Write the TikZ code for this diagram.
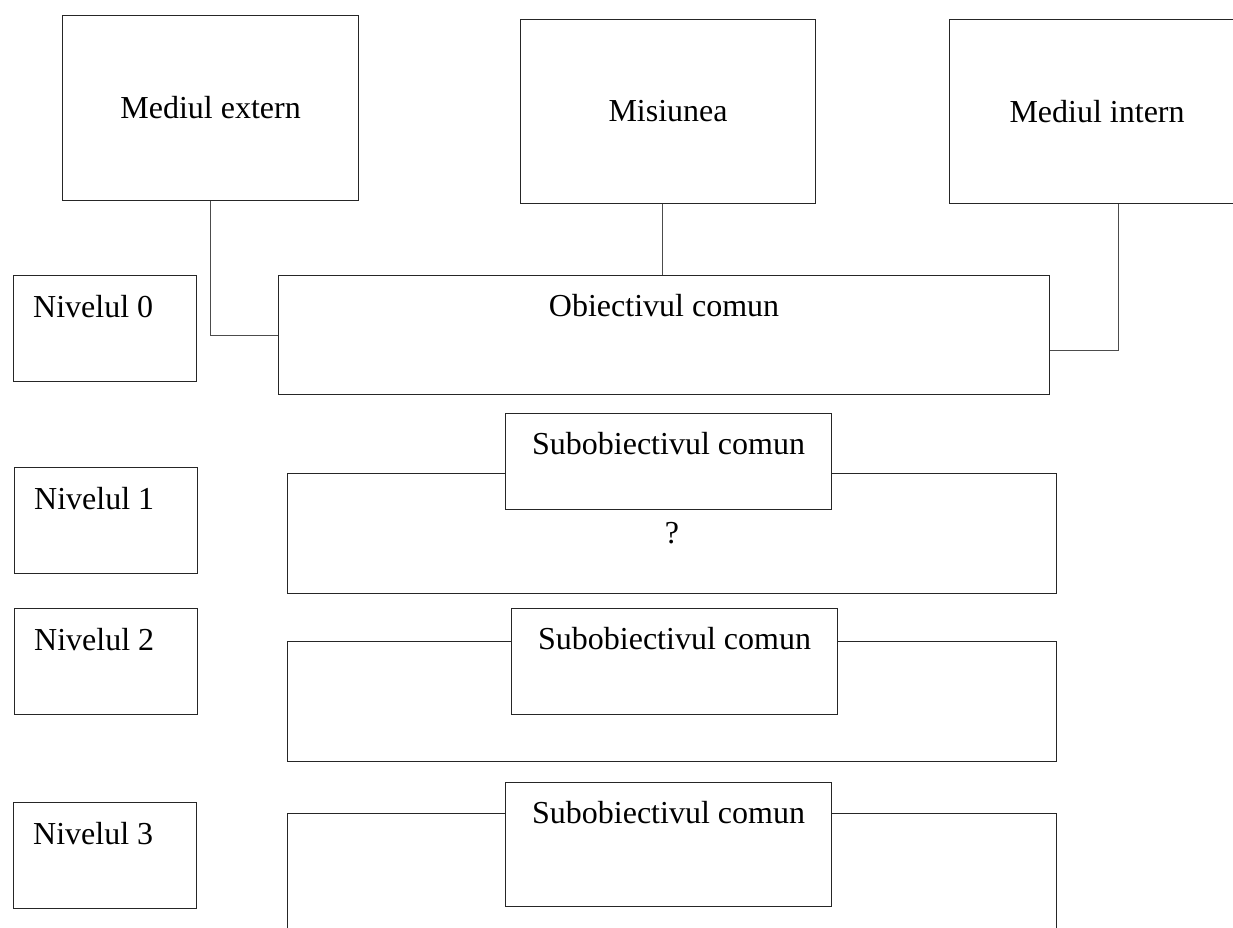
\documentclass[tikz,border=0pt]{standalone}
\usepackage{fontspec}
\setmainfont{Liberation Serif}
\usetikzlibrary{positioning}

\begin{document}
\begin{tikzpicture}
[x=1pt,y=-1pt,font=\fontsize{32}{38}\selectfont]

  \tikzstyle{box}=[draw=black!85,line width=1.1pt,fill=white,rectangle,inner sep=0pt,anchor=north west]
  \tikzstyle{toptext}=[inner sep=0pt,anchor=north,yshift=-19pt]
  \tikzstyle{lvltext}=[inner sep=0pt,anchor=north west,xshift=20pt,yshift=-20pt]
  \tikzstyle{link}=[draw=black!70,line width=1.1pt]

  \useasboundingbox (0,0) rectangle (1233,927);
  \clip (0,0) rectangle (1233,927);

  % the three sources
  \node[box,minimum width=296pt,minimum height=185pt] (ext) at (62,15)  {Mediul extern};
  \node[box,minimum width=295pt,minimum height=184pt] (mis) at (520,19) {Misiunea};
  \node[box,minimum width=295pt,minimum height=184pt] (int) at (949,19) {Mediul intern};

  % level 0
  \node[box,minimum width=183pt,minimum height=106pt,label={[lvltext]north west:Nivelul 0}] (niv0) at (13,275) {};
  \node[box,minimum width=771pt,minimum height=119pt,label={[toptext]north:Obiectivul comun}] (obj) at (278,275) {};

  % level 1
  \node[box,minimum width=183pt,minimum height=106pt,label={[lvltext]north west:Nivelul 1}] (niv1) at (14,467) {};
  \node[box,minimum width=769pt,minimum height=120pt] (big1) at (287,473) {?};
  \node[box,minimum width=326pt,minimum height=96pt,label={[toptext]north:Subobiectivul comun}] (sub1) at (505,413) {};

  % level 2
  \node[box,minimum width=183pt,minimum height=106pt,label={[lvltext]north west:Nivelul 2}] (niv2) at (14,608) {};
  \node[box,minimum width=769pt,minimum height=120pt] (big2) at (287,641) {};
  \node[box,minimum width=326pt,minimum height=106pt,label={[toptext]north:Subobiectivul comun}] (sub2) at (511,608) {};

  % level 3
  \node[box,minimum width=183pt,minimum height=106pt,label={[lvltext]north west:Nivelul 3}] (niv3) at (13,802) {};
  \node[box,minimum width=769pt,minimum height=150pt] (big3) at (287,813) {};
  \node[box,minimum width=326pt,minimum height=124pt,label={[toptext]north:Subobiectivul comun}] (sub3) at (505,782) {};

  \draw[link] (ext.south) |- (obj.west);
  \draw[link] ([xshift=-6pt]mis.south) -- ([xshift=-6pt]mis.south |- obj.north);
  \draw[link] ([xshift=21.5pt]int.south) |- ([yshift=-15.5pt]obj.east);
\end{tikzpicture}
\end{document}
